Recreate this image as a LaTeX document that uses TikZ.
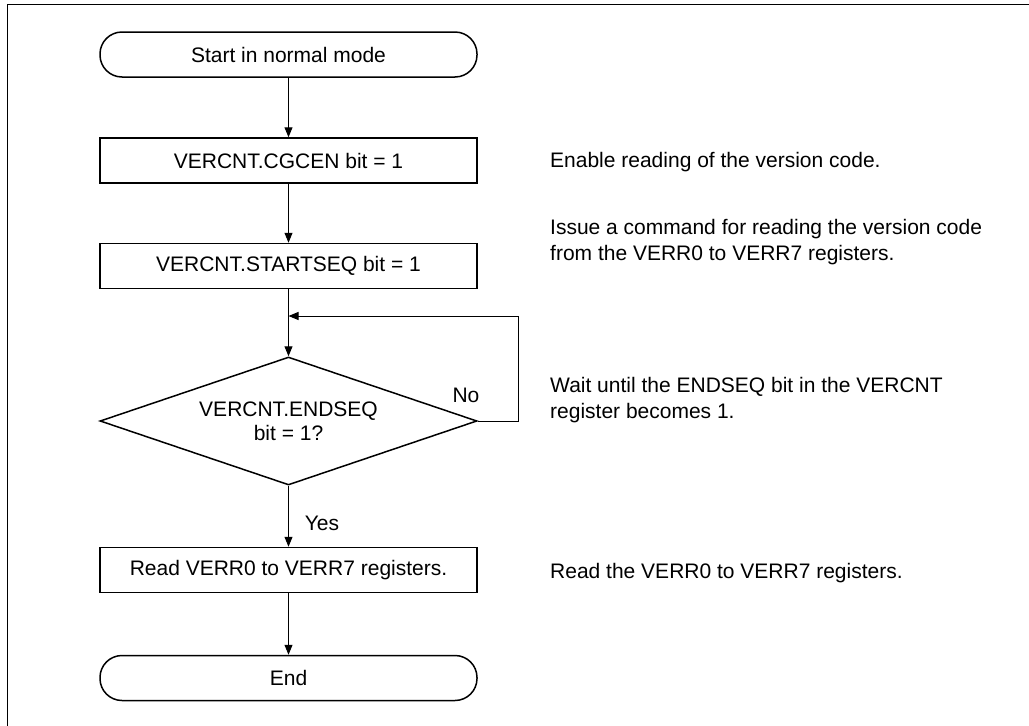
\documentclass[tikz,border=0pt]{standalone}
\usepackage{fontspec}
\setmainfont{Liberation Sans}
\usetikzlibrary{arrows.meta,shapes.geometric}
\tikzset{
  stepbox/.style={draw, line width=1.5pt, minimum width=377pt, minimum height=45pt, inner sep=0pt},
  termbox/.style={stepbox, rounded corners=22pt},
  testbox/.style={draw, diamond, aspect=2.95, line width=1.5pt, minimum width=377pt, minimum height=128pt, inner sep=0pt, align=center},
  note/.style={anchor=base west, align=left, inner sep=0pt},
  flow/.style={line width=1pt, -{Triangle[length=10pt,width=8pt]}}
}
\begin{document}
\begin{tikzpicture}[x=1pt,y=-1pt,font=\fontsize{21}{26}\selectfont]
\useasboundingbox (0,0) rectangle (1029,726);
\draw [line width=1pt] (7,726)--(7,4)--(1029,4);
% flow chart
\node [termbox] (start) at (288.5,54.5) {Start in normal mode};
\node [stepbox] (cgcen) at (288.5,160.5) {VERCNT.CGCEN bit = 1};
\node [stepbox] (startseq) at (288.5,266) {VERCNT.STARTSEQ bit = 1};
\coordinate (join) at (288.5,316);
\node [testbox] (endseq) at (288.5,421) {VERCNT.ENDSEQ\\[-2pt]bit = 1?};
\node [stepbox] (readverr) at (288.5,570) {Read VERR0 to VERR7 registers.};
\node [termbox] (finish) at (288.5,678) {End};
\draw [flow] (start)--(cgcen);
\draw [flow] (cgcen)--(startseq);
\draw [flow] (startseq)--(endseq);
\draw [flow] (endseq.east)--(518,421)--(518,316)--(join);
\draw [flow] (endseq)--(readverr);
\draw [flow] (readverr)--(finish);
\node (no) at (466,395) {No};
\node (yes) at (322,523) {Yes};
% notes
\node [note] (cgcennote) at (550,167) {Enable reading of the version code.};
\node [note] (startseqnote) at (550,260) {Issue a command for reading the version code\\from the VERR0 to VERR7 registers.};
\node [note] (endseqnote) at (550,418) {Wait until the ENDSEQ bit in the VERCNT\\register becomes 1.};
\node [note] (readverrnote) at (550,578) {Read the VERR0 to VERR7 registers.};
\end{tikzpicture}
\end{document}
